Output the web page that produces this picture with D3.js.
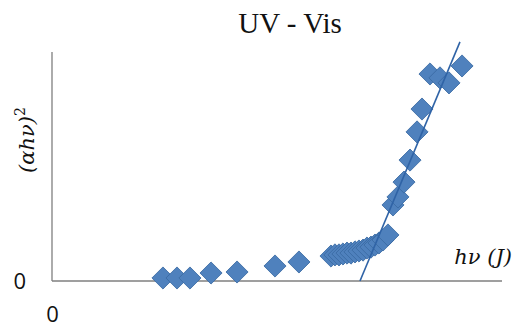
<!DOCTYPE html>
<html>
<head>
<meta charset="utf-8">
<script src="https://cdn.jsdelivr.net/npm/d3@7/dist/d3.min.js"></script>
<style>
  html, body { margin: 0; padding: 0; background: #fff; }
  svg { display: block; }
</style>
</head>
<body>
<svg id="chart" width="516" height="327"></svg>
<script>
// photon energy hν (arbitrary scale, only 0 labelled)
const hv = [1.233, 1.389, 1.533, 1.767, 2.056, 2.478, 2.744,
  3.100, 3.144, 3.189, 3.233, 3.278, 3.322, 3.367, 3.411, 3.456, 3.500, 3.544, 3.589, 3.633, 3.678, 3.733,
  3.789, 3.844, 3.911, 3.978, 4.056, 4.111, 4.200, 4.311, 4.411, 4.556];
// (αhν)^2
const ahv2 = [0.131, 0.131, 0.131, 0.349, 0.393, 0.655, 0.830,
  1.09, 1.14, 1.14, 1.18, 1.22, 1.22, 1.27, 1.31, 1.35, 1.44, 1.48, 1.57, 1.66, 1.79, 2.01,
  3.32, 3.67, 4.32, 5.28, 6.51, 7.51, 9.04, 8.87, 8.65, 9.39];
// linear extrapolation (tangent) end points
const fitX = [3.422, 4.533];
const fitY = [0, 10.44];
const xTicks = [0];
const yTicks = [0];

const svg = d3.select("#chart");
const x = d3.scaleLinear().domain([0, 5]).range([52, 502]);
const y = d3.scaleLinear().domain([0, 10]).range([281, 52]);

// title
svg.append("text").attr("x", 290).attr("y", 33).attr("text-anchor", "middle")
  .attr("font-family", "Liberation Serif, serif").attr("font-size", 29).attr("fill", "#111")
  .text("UV - Vis");

// axes
const xAxis = d3.axisBottom(x).tickValues(xTicks).tickSize(0).tickPadding(25).tickFormat(d3.format("d"));
const yAxis = d3.axisLeft(y).tickValues(yTicks).tickSize(0).tickPadding(26).tickFormat(d3.format("d"));
const gx = svg.append("g").attr("transform", `translate(0,${y(0)})`).call(xAxis);
const gy = svg.append("g").attr("transform", `translate(${x(0)},0)`).call(yAxis);
gx.select(".domain").attr("stroke", "#7f7f7f").attr("stroke-width", 1.3).attr("d", `M${x(0)},0H${x(5)}`);
gy.select(".domain").attr("stroke", "#7f7f7f").attr("stroke-width", 1.3).attr("d", `M0,${y(0)}V${y(10)}`);
[gx, gy].forEach(g => g.selectAll("text")
  .attr("font-family", "Open Sans, sans-serif").attr("font-size", 22).attr("fill", "#111"));
gy.selectAll("text").attr("dy", "0.35em");

// markers
const sym = d3.symbol().type(d3.symbolSquare).size(245);
svg.append("g").selectAll("path").data(hv.map((v, i) => [v, ahv2[i]])).join("path")
  .attr("d", sym)
  .attr("transform", d => `translate(${x(d[0])},${y(d[1])}) rotate(45)`)
  .attr("fill", "#4f81bd").attr("stroke", "#3a6aa3").attr("stroke-width", 0.8);

// tangent line
svg.append("line")
  .attr("x1", x(fitX[0])).attr("y1", y(fitY[0]))
  .attr("x2", x(fitX[1])).attr("y2", y(fitY[1]))
  .attr("stroke", "#2f63a6").attr("stroke-width", 1.6);

// axis titles
svg.append("text").attr("transform", "translate(34,140) rotate(-90)").attr("text-anchor", "middle")
  .attr("font-family", "DejaVu Serif, serif").attr("font-style", "italic").attr("font-size", 21).attr("fill", "#111")
  .html('(<tspan>αhν</tspan>)<tspan font-style="normal" font-size="14" dy="-9">2</tspan>');
svg.append("text").attr("x", 512).attr("y", 264).attr("text-anchor", "end")
  .attr("font-family", "DejaVu Serif, serif").attr("font-style", "italic").attr("font-size", 21).attr("fill", "#111")
  .text("hν (J)");
</script>
</body>
</html>
